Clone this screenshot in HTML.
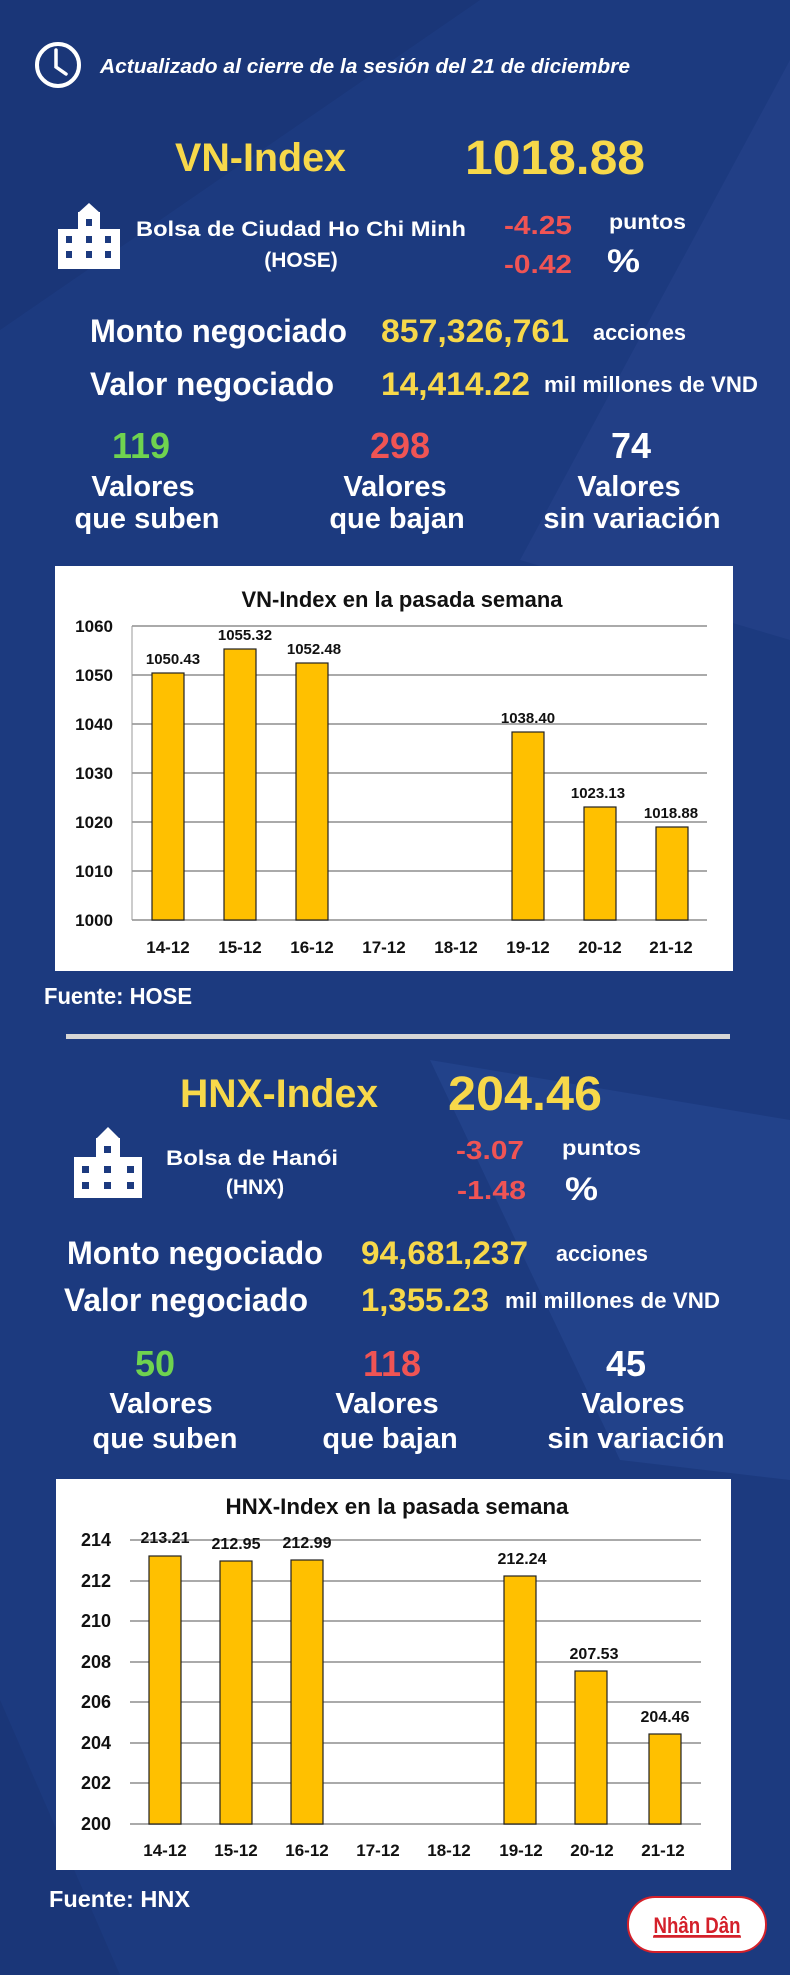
<!DOCTYPE html>
<html><head><meta charset="utf-8"><style>
html,body{margin:0;padding:0;background:#1c3a7f}
svg{display:block}
text{font-family:"Liberation Sans",sans-serif;font-weight:bold}
</style></head><body>
<svg width="790" height="1975" viewBox="0 0 790 1975" xmlns="http://www.w3.org/2000/svg">
<rect width="790" height="1975" fill="#1c3a7f"/>
<polygon points="0,0 480,0 0,330" fill="#1a3678"/>
<polygon points="790,60 790,640 520,560" fill="#223f86"/>
<polygon points="430,1060 790,1120 790,1480 620,1460" fill="#22428a"/>
<polygon points="0,1700 120,1975 0,1975" fill="#1a3678"/>

<!-- clock -->
<circle cx="58" cy="65" r="21" fill="none" stroke="#fff" stroke-width="4"/>
<polyline points="56,50 56,67 66,74" fill="none" stroke="#fff" stroke-width="3.5" stroke-linecap="round"/>
<text x="100" y="73" font-size="20" fill="#fff" font-style="italic" font-weight="normal" textLength="530" lengthAdjust="spacingAndGlyphs">Actualizado al cierre de la sesión del 21 de diciembre</text>

<!-- VN section -->
<text x="175" y="171" font-size="40" fill="#f7d84a" textLength="171" lengthAdjust="spacingAndGlyphs">VN-Index</text>
<text x="465" y="174" font-size="48" fill="#f7d84a" textLength="180" lengthAdjust="spacingAndGlyphs">1018.88</text>
<g fill="#fff">
<rect x="58" y="229" width="62" height="40"/><rect x="78" y="212" width="22" height="20"/><polygon points="78,213 89,203 100,213"/>
</g>
<g fill="#1c3a7f">
<rect x="66" y="236" width="6" height="7"/><rect x="86" y="236" width="6" height="7"/><rect x="86" y="219" width="6" height="7"/>
<rect x="66" y="251" width="6" height="7"/><rect x="86" y="251" width="6" height="7"/><rect x="105" y="251" width="6" height="7"/><rect x="105" y="236" width="6" height="7"/>
</g>
<text x="136" y="236" font-size="21" fill="#fff" textLength="330" lengthAdjust="spacingAndGlyphs">Bolsa de Ciudad Ho Chi Minh</text>
<text x="301" y="267" font-size="21" fill="#fff" text-anchor="middle">(HOSE)</text>
<text x="504" y="234" font-size="26" fill="#f05454" textLength="68" lengthAdjust="spacingAndGlyphs">-4.25</text>
<text x="504" y="273" font-size="26" fill="#f05454" textLength="68" lengthAdjust="spacingAndGlyphs">-0.42</text>
<text x="609" y="229" font-size="21" fill="#fff" textLength="77" lengthAdjust="spacingAndGlyphs">puntos</text>
<text x="607" y="272" font-size="32" fill="#fff" textLength="33" lengthAdjust="spacingAndGlyphs">%</text>

<text x="90" y="342" font-size="32" fill="#fff" textLength="257" lengthAdjust="spacingAndGlyphs">Monto negociado</text>
<text x="381" y="342" font-size="32" fill="#f7d84a" textLength="188" lengthAdjust="spacingAndGlyphs">857,326,761</text>
<text x="593" y="340" font-size="22" fill="#fff" font-weight="normal" textLength="93" lengthAdjust="spacingAndGlyphs">acciones</text>
<text x="90" y="395" font-size="32" fill="#fff" textLength="244" lengthAdjust="spacingAndGlyphs">Valor negociado</text>
<text x="381" y="395" font-size="32" fill="#f7d84a" textLength="149" lengthAdjust="spacingAndGlyphs">14,414.22</text>
<text x="544" y="392" font-size="22" fill="#fff" font-weight="normal" textLength="214" lengthAdjust="spacingAndGlyphs">mil millones de VND</text>

<g text-anchor="middle">
<text x="141" y="458" font-size="36" fill="#6fd34f">119</text>
<text x="400" y="458" font-size="36" fill="#f05454">298</text>
<text x="631" y="458" font-size="36" fill="#fff">74</text>
<text x="143" y="496" font-size="29" fill="#fff">Valores</text>
<text x="147" y="528" font-size="29" fill="#fff">que suben</text>
<text x="395" y="496" font-size="29" fill="#fff">Valores</text>
<text x="397" y="528" font-size="29" fill="#fff">que bajan</text>
<text x="629" y="496" font-size="29" fill="#fff">Valores</text>
<text x="632" y="528" font-size="29" fill="#fff">sin variación</text>
</g>

<!-- chart 1 -->
<rect x="55" y="566" width="678" height="405" fill="#fff"/>
<text x="402" y="607" font-size="22" fill="#111" text-anchor="middle" textLength="321" lengthAdjust="spacingAndGlyphs">VN-Index en la pasada semana</text>
<g stroke="#aaa" stroke-width="2">
<line x1="132" y1="626" x2="707" y2="626"/><line x1="132" y1="675" x2="707" y2="675"/><line x1="132" y1="724" x2="707" y2="724"/>
<line x1="132" y1="773" x2="707" y2="773"/><line x1="132" y1="822" x2="707" y2="822"/><line x1="132" y1="871" x2="707" y2="871"/><line x1="132" y1="920" x2="707" y2="920"/>
</g>
<line x1="132" y1="626" x2="132" y2="920" stroke="#999" stroke-width="1"/>
<g font-size="17" fill="#111" text-anchor="end">
<text x="113" y="632">1060</text><text x="113" y="681">1050</text><text x="113" y="730">1040</text><text x="113" y="779">1030</text>
<text x="113" y="828">1020</text><text x="113" y="877">1010</text><text x="113" y="926">1000</text>
</g>
<g fill="#ffc000" stroke="#222" stroke-width="1.2">
<rect x="152" y="673" width="32" height="247"/><rect x="224" y="649" width="32" height="271"/><rect x="296" y="663" width="32" height="257"/>
<rect x="512" y="732" width="32" height="188"/><rect x="584" y="807" width="32" height="113"/><rect x="656" y="827" width="32" height="93"/>
</g>
<g font-size="15" fill="#111" text-anchor="middle">
<text x="173" y="664">1050.43</text><text x="245" y="640">1055.32</text><text x="314" y="654">1052.48</text>
<text x="528" y="723">1038.40</text><text x="598" y="798">1023.13</text><text x="671" y="818">1018.88</text>
</g>
<g font-size="17" fill="#111" text-anchor="middle">
<text x="168" y="953">14-12</text><text x="240" y="953">15-12</text><text x="312" y="953">16-12</text><text x="384" y="953">17-12</text>
<text x="456" y="953">18-12</text><text x="528" y="953">19-12</text><text x="600" y="953">20-12</text><text x="671" y="953">21-12</text>
</g>
<text x="44" y="1004" font-size="23" fill="#fff" textLength="148" lengthAdjust="spacingAndGlyphs">Fuente: HOSE</text>
<rect x="66" y="1034" width="664" height="5" fill="#d6d6d6"/>

<!-- HNX section -->
<text x="180" y="1107" font-size="40" fill="#f7d84a" textLength="198" lengthAdjust="spacingAndGlyphs">HNX-Index</text>
<text x="448" y="1110" font-size="48" fill="#f7d84a" textLength="154" lengthAdjust="spacingAndGlyphs">204.46</text>
<g fill="#fff">
<rect x="74" y="1157" width="68" height="41"/><rect x="96" y="1138" width="24" height="22"/><polygon points="96,1139 108,1127 120,1139"/>
</g>
<g fill="#1c3a7f">
<rect x="82" y="1166" width="7" height="7"/><rect x="104" y="1166" width="7" height="7"/><rect x="104" y="1146" width="7" height="7"/>
<rect x="82" y="1182" width="7" height="7"/><rect x="104" y="1182" width="7" height="7"/><rect x="127" y="1182" width="7" height="7"/><rect x="127" y="1166" width="7" height="7"/>
</g>
<text x="166" y="1165" font-size="21" fill="#fff" textLength="172" lengthAdjust="spacingAndGlyphs">Bolsa de Hanói</text>
<text x="255" y="1194" font-size="21" fill="#fff" text-anchor="middle">(HNX)</text>
<text x="456" y="1159" font-size="26" fill="#f05454" textLength="68" lengthAdjust="spacingAndGlyphs">-3.07</text>
<text x="457" y="1199" font-size="26" fill="#f05454" textLength="69" lengthAdjust="spacingAndGlyphs">-1.48</text>
<text x="562" y="1155" font-size="21" fill="#fff" textLength="79" lengthAdjust="spacingAndGlyphs">puntos</text>
<text x="565" y="1200" font-size="32" fill="#fff" textLength="33" lengthAdjust="spacingAndGlyphs">%</text>

<text x="67" y="1264" font-size="32" fill="#fff" textLength="256" lengthAdjust="spacingAndGlyphs">Monto negociado</text>
<text x="361" y="1264" font-size="32" fill="#f7d84a" textLength="167" lengthAdjust="spacingAndGlyphs">94,681,237</text>
<text x="556" y="1261" font-size="22" fill="#fff" font-weight="normal" textLength="92" lengthAdjust="spacingAndGlyphs">acciones</text>
<text x="64" y="1311" font-size="32" fill="#fff" textLength="244" lengthAdjust="spacingAndGlyphs">Valor negociado</text>
<text x="361" y="1311" font-size="32" fill="#f7d84a" textLength="128" lengthAdjust="spacingAndGlyphs">1,355.23</text>
<text x="505" y="1308" font-size="22" fill="#fff" font-weight="normal" textLength="215" lengthAdjust="spacingAndGlyphs">mil millones de VND</text>

<g text-anchor="middle">
<text x="155" y="1376" font-size="36" fill="#6fd34f">50</text>
<text x="392" y="1376" font-size="36" fill="#f05454">118</text>
<text x="626" y="1376" font-size="36" fill="#fff">45</text>
<text x="161" y="1413" font-size="29" fill="#fff">Valores</text>
<text x="165" y="1448" font-size="29" fill="#fff">que suben</text>
<text x="387" y="1413" font-size="29" fill="#fff">Valores</text>
<text x="390" y="1448" font-size="29" fill="#fff">que bajan</text>
<text x="633" y="1413" font-size="29" fill="#fff">Valores</text>
<text x="636" y="1448" font-size="29" fill="#fff">sin variación</text>
</g>

<!-- chart 2 -->
<rect x="56" y="1479" width="675" height="391" fill="#fff"/>
<text x="397" y="1514" font-size="22" fill="#111" text-anchor="middle" textLength="343" lengthAdjust="spacingAndGlyphs">HNX-Index en la pasada semana</text>
<g stroke="#aaa" stroke-width="2">
<line x1="130" y1="1540" x2="701" y2="1540"/><line x1="130" y1="1581" x2="701" y2="1581"/><line x1="130" y1="1621" x2="701" y2="1621"/>
<line x1="130" y1="1662" x2="701" y2="1662"/><line x1="130" y1="1702" x2="701" y2="1702"/><line x1="130" y1="1743" x2="701" y2="1743"/>
<line x1="130" y1="1783" x2="701" y2="1783"/><line x1="130" y1="1824" x2="701" y2="1824"/>
</g>
<g font-size="18" fill="#111" text-anchor="end">
<text x="111" y="1546">214</text><text x="111" y="1587">212</text><text x="111" y="1627">210</text><text x="111" y="1668">208</text>
<text x="111" y="1708">206</text><text x="111" y="1749">204</text><text x="111" y="1789">202</text><text x="111" y="1830">200</text>
</g>
<g fill="#ffc000" stroke="#222" stroke-width="1.2">
<rect x="149" y="1556" width="32" height="268"/><rect x="220" y="1561" width="32" height="263"/><rect x="291" y="1560" width="32" height="264"/>
<rect x="504" y="1576" width="32" height="248"/><rect x="575" y="1671" width="32" height="153"/><rect x="649" y="1734" width="32" height="90"/>
</g>
<g font-size="16" fill="#111" text-anchor="middle">
<text x="165" y="1543">213.21</text><text x="236" y="1549">212.95</text><text x="307" y="1548">212.99</text>
<text x="522" y="1564">212.24</text><text x="594" y="1659">207.53</text><text x="665" y="1722">204.46</text>
</g>
<g font-size="17" fill="#111" text-anchor="middle">
<text x="165" y="1856">14-12</text><text x="236" y="1856">15-12</text><text x="307" y="1856">16-12</text><text x="378" y="1856">17-12</text>
<text x="449" y="1856">18-12</text><text x="521" y="1856">19-12</text><text x="592" y="1856">20-12</text><text x="663" y="1856">21-12</text>
</g>
<text x="49" y="1907" font-size="23" fill="#fff" textLength="141" lengthAdjust="spacingAndGlyphs">Fuente:  HNX</text>

<!-- logo -->
<rect x="628" y="1897" width="138" height="55" rx="27" fill="#fff" stroke="#d4202a" stroke-width="2"/>
<text x="697" y="1933" font-size="22" fill="#d4202a" text-anchor="middle" text-decoration="underline" textLength="87" lengthAdjust="spacingAndGlyphs">Nhân Dân</text>
<line x1="653" y1="1937" x2="741" y2="1937" stroke="#d4202a" stroke-width="1.5"/>
</svg>
</body></html>
